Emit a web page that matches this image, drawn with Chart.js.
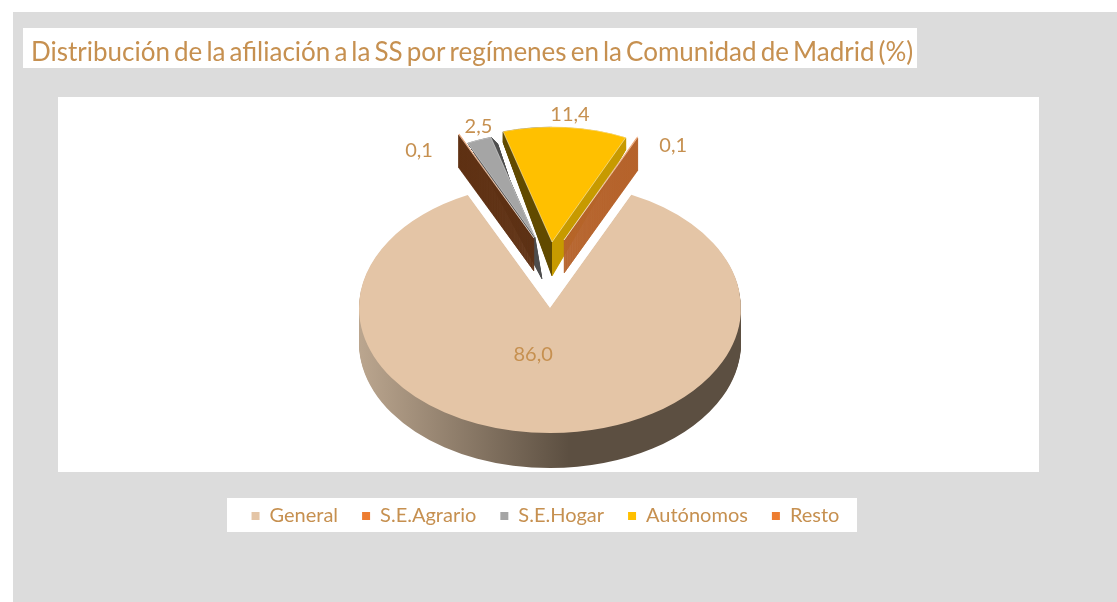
<!DOCTYPE html>
<html>
<head>
<meta charset="utf-8">
<script src="https://cdn.jsdelivr.net/npm/chart.js@4"></script>
<style>
  html, body { margin: 0; padding: 0; background: #fff; }
  canvas { display: block; }
</style>
</head>
<body>
<canvas id="grafico" width="1117" height="602"></canvas>
<script>
const categorias = ['General', 'S.E.Agrario', 'S.E.Hogar', 'Autónomos', 'Resto'];
const valores = [86.0, 0.1, 2.5, 11.4, 0.1];
const titulo = 'Distribución de la afiliación a la SS por regímenes en la Comunidad de Madrid (%)';

const colores = ['#E4C5A6', '#ED7D31', '#A5A5A5', '#FFC000', '#ED7D31'];
const texto = '#C69050';

// PIE "3D": centro en pantalla, aplastado y grosor
const centroX = 550, centroY = 308, aplastado = 0.655, radio = 191;
const grosor = [35, 33, 42, 34, 33];
// las paredes de estas porciones se estrechan hacia afuera (perspectiva)
const estira = [0, 0, 0.35, 0.21, 0];
const paredX = [0, 0, 7, 0, 0];
// cuanto se separa cada porcion y su escala (lo de atras se ve mas chico)
const separaX = [0, -16, -15, 2, 14];
const separaY = [0, -70, -71, -66, -68];
const escala = [1, 0.92, 0.83, 0.92, 0.91];
// color de las paredes [izquierda, derecha] del vertice
const pared = [null, ['#5E3012', '#5E3012'], ['#4D4D4D', '#4D4D4D'], ['#614A00', '#C79A00'], ['#B5622A', '#B5622A']];
const ordenDibujo = [0, 2, 3, 1, 4];
// etiquetas
const etiquetaRadio = [0.37, 1.05, 1.1, 1.05, 1.05];
const etiquetaX = [-17, -36, 5, 4, 32];
const etiquetaY = [0, 22, -4, -7, 14];

function aplicar(ctx, arc, i, d) {
    const t = d / grosor[i];
    ctx.translate(centroX + separaX[i] + paredX[i] * t, centroY + separaY[i] + d);
    ctx.scale(escala[i], escala[i] * aplastado * (1 + estira[i] * t));
    ctx.translate(-arc.x, -arc.y);
}

function gradientePared(ctx, arc, i) {
    const g = ctx.createLinearGradient(arc.x - radio, 0, arc.x + radio, 0);
    if (i === 0) {
        g.addColorStop(0, '#BBA68F');
        g.addColorStop(0.55, '#5C4F41');
        g.addColorStop(1, '#5C4F41');
    } else {
        g.addColorStop(0, pared[i][0]);
        g.addColorStop(0.5, pared[i][0]);
        g.addColorStop(0.5, pared[i][1]);
        g.addColorStop(1, pared[i][1]);
    }
    return g;
}

const pie3d = {
    id: 'pie3d',
    beforeDraw(chart) {
        const ctx = chart.ctx;
        ctx.save();
        ctx.fillStyle = '#DCDCDC';
        ctx.fillRect(13, 12, 1104, 590);
        ctx.fillStyle = '#FFFFFF';
        ctx.fillRect(23, 28, 894, 40);
        ctx.fillRect(58, 97, 981, 375);
        ctx.fillRect(227, 498, 630, 34);
        ctx.restore();
        // el titulo original tiene los espacios entre palabras muy justos
        ctx.wordSpacing = '-2.6px';
    },
    beforeDatasetsDraw(chart) {
        const ctx = chart.ctx;
        const arcos = chart.getDatasetMeta(0).data;
        ordenDibujo.forEach(i => {
            const arc = arcos[i];
            const original = arc.options;
            const g = gradientePared(ctx, arc, i);
            // paredes: copias del arco bajando pixel a pixel
            arc.options = Object.assign({}, original, {
                backgroundColor: g,
                borderColor: g,
                borderWidth: i === 0 ? 0 : 1
            });
            for (let d = grosor[i]; d > 0; d--) {
                ctx.save();
                aplicar(ctx, arc, i, d);
                arc.draw(ctx);
                ctx.restore();
            }
            // cara de arriba, con filo claro en las separadas
            arc.options = i === 0 ? original : Object.assign({}, original, {
                borderColor: 'rgba(255,255,255,0.6)',
                borderWidth: 1
            });
            ctx.save();
            aplicar(ctx, arc, i, 0);
            arc.draw(ctx);
            ctx.restore();
            arc.options = original;
        });
        // etiquetas de datos
        ctx.save();
        ctx.font = '20px Lato';
        ctx.fillStyle = texto;
        ctx.textAlign = 'center';
        ctx.textBaseline = 'middle';
        arcos.forEach((arc, i) => {
            const medio = (arc.startAngle + arc.endAngle) / 2;
            const r = radio * escala[i] * etiquetaRadio[i];
            const x = centroX + separaX[i] + Math.cos(medio) * r + etiquetaX[i];
            const y = centroY + separaY[i] + Math.sin(medio) * r * aplastado + etiquetaY[i];
            ctx.fillText(valores[i].toFixed(1).replace('.', ','), x, y);
        });
        ctx.restore();
        return false;
    }
};

const grafico = new Chart(document.getElementById('grafico'), {
    type: 'pie',
    data: {
        labels: categorias,
        datasets: [{
            data: valores,
            backgroundColor: colores,
            borderWidth: 0
        }]
    },
    options: {
        responsive: false,
        animation: false,
        rotation: 25.2,
        radius: radio,
        layout: { padding: { top: 37, left: 31, right: 57, bottom: 66 } },
        plugins: {
            tooltip: { enabled: false },
            title: {
                display: true,
                text: titulo,
                align: 'start',
                color: texto,
                font: { family: 'Lato', size: 26, weight: 'normal' },
                padding: { top: 0, bottom: 0 }
            },
            legend: {
                position: 'bottom',
                labels: {
                    color: texto,
                    font: { family: 'Lato', size: 20 },
                    usePointStyle: true,
                    pointStyle: 'rect',
                    boxWidth: 8,
                    boxHeight: 8,
                    padding: 24
                }
            }
        }
    },
    plugins: [pie3d]
});
</script>
</body>
</html>
